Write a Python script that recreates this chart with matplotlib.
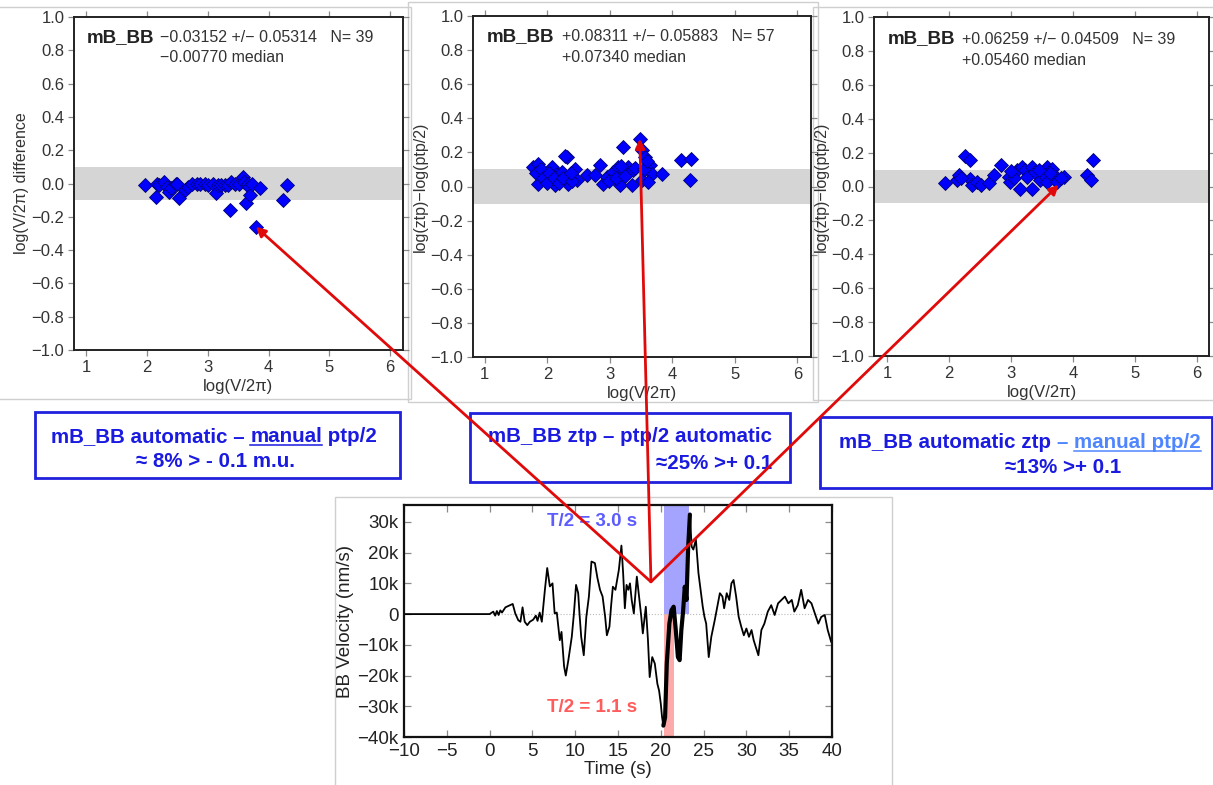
import matplotlib
matplotlib.use('Agg')
import matplotlib.pyplot as plt
from matplotlib.patches import Rectangle, ConnectionPatch
from matplotlib.lines import Line2D
from matplotlib.ticker import FuncFormatter
import numpy as np

# ---------------- data ----------------
p1_x = [1.96, 2.15, 2.16, 2.20, 2.28, 2.33, 2.36, 2.40, 2.47, 2.50, 2.53, 2.62, 2.68,
        2.74, 2.82, 2.88, 2.96, 3.00, 3.08, 3.13, 3.17, 3.22, 3.28, 3.34, 3.36, 3.38,
        3.45, 3.52, 3.58, 3.60, 3.63, 3.66, 3.68, 3.70, 3.72, 3.79, 3.86, 4.24, 4.30]
p1_y = [-0.01, -0.08, 0.00, -0.01, 0.01, -0.02, -0.05, -0.03, 0.00, 0.00, -0.09, -0.04, -0.02,
        0.00, 0.00, 0.00, 0.00, -0.01, 0.00, -0.06, -0.01, -0.01, -0.01, -0.01, -0.16, 0.01,
        0.00, 0.00, 0.04, 0.01, -0.12, 0.00, -0.02, -0.07, 0.00, -0.26, -0.03, -0.10, -0.01]

p2_x = [1.77, 1.85, 1.88, 1.85, 1.96, 2.07, 2.09, 2.15, 2.12, 2.23, 2.31, 2.33, 2.36,
        2.44, 2.47, 2.63, 2.76, 2.84, 2.89, 2.95, 3.05, 3.13, 3.16, 3.21, 3.21, 3.29,
        3.35, 3.37, 3.48, 3.51, 3.56, 3.52, 3.64, 3.67, 3.61, 3.83, 4.14, 4.30, 4.28,
        1.82, 1.90, 1.93, 2.00, 2.03, 2.10, 2.18, 2.25, 2.29, 2.40, 2.38, 2.98, 3.10,
        3.18, 3.25, 3.40, 3.55, 3.60]
p2_y = [0.114, 0.134, 0.065, 0.017, 0.036, 0.114, 0.026, 0.075, 0.007, 0.085, 0.173, 0.017, 0.065,
        0.104, 0.036, 0.065, 0.065, 0.124, 0.017, 0.056, 0.085, 0.114, 0.007, 0.232, 0.075, 0.114,
        0.007, 0.095, 0.280, 0.212, 0.173, 0.036, 0.124, 0.075, 0.026, 0.075, 0.153, 0.163, 0.040,
        0.08, 0.10, 0.05, 0.02, 0.08, 0.05, 0.02, 0.05, 0.18, 0.03, 0.08, 0.03, 0.05,
        0.12, 0.06, 0.11, 0.10, 0.15]

p3_x = [1.94, 2.13, 2.16, 2.26, 2.33, 2.34, 2.37, 2.45, 2.52, 2.64, 2.72, 2.83, 2.96,
        2.99, 3.10, 3.15, 3.18, 3.23, 3.26, 3.34, 3.34, 3.39, 3.47, 3.53, 3.58, 3.58,
        3.66, 3.72, 3.74, 3.85, 4.23, 4.28, 4.32, 3.05, 3.62, 3.80, 3.45, 2.20, 3.00]
p3_y = [0.018, 0.037, 0.067, 0.179, 0.159, 0.047, 0.008, 0.027, 0.008, 0.018, 0.067, 0.126, 0.057,
        0.027, 0.096, -0.012, 0.116, 0.096, 0.057, -0.012, 0.116, 0.086, 0.037, 0.067, 0.116, 0.027,
        0.106, 0.057, 0.027, 0.057, 0.067, 0.037, 0.155, 0.05, 0.08, 0.05, 0.10, 0.05, 0.09]

wave_t = [-10, 0.0, 0.43, 0.65, 0.85, 1.05, 1.25, 1.45, 1.85, 2.3, 2.7, 3.0, 3.35, 3.6, 3.85,
          4.1, 4.4, 4.7, 5.1, 5.4, 5.6, 5.85, 6.1, 6.46, 6.73, 7.04, 7.35, 7.6, 7.85, 8.2,
          8.4, 8.7, 8.9, 9.2, 9.6, 9.85, 10.1, 10.35, 10.5, 10.7, 11.0, 11.3, 11.6, 11.9,
          12.3, 12.6, 12.9, 13.2, 13.5, 13.7, 14.0, 14.2, 14.4, 14.7, 15.1, 15.4, 15.6,
          15.8, 16.0, 16.2, 16.4, 16.6, 16.85, 17.2, 17.5, 17.7, 17.9, 18.25, 18.5, 18.7,
          19.0, 19.3, 19.6, 19.8, 20.0, 20.15, 20.3, 20.5, 20.7, 21.0, 21.25, 21.5, 21.75,
          22.0, 22.2, 22.4, 22.6, 22.8, 23.0, 23.2, 23.4, 23.6, 23.8, 24.1, 24.4, 24.6,
          24.9, 25.1, 25.3, 25.6, 25.9, 26.3, 26.6, 26.9, 27.2, 27.4, 27.7, 28.0, 28.25,
          28.5, 28.8, 29.1, 29.4, 29.7, 30.0, 30.3, 30.6, 30.85, 31.4, 31.75, 32.1, 32.5,
          32.9, 33.3, 33.7, 34.1, 34.5, 34.9, 35.3, 35.6, 36.0, 36.4, 36.8, 37.2, 37.6,
          38.0, 38.4, 38.75, 39.15, 39.5, 39.9]
wave_k = [0, 0, 0.8, -0.5, 1.0, -0.3, 1.2, 0.5, 2.2, 2.8, 3.3, 0.2, -2, -2.5, 2.2,
          -2.5, -3.6, -2.5, -1.8, -0.5, -2.2, 0.5, -2.5, 7.9, 15, 9, 10, 0.2, 0.5, -8.5,
          -5.8, -17, -20, -15, -7.4, 0.2, 9.5, 6.8, 0.2, -7.4, -13.4, -0.9, 5.7, 17.1,
          16.6, 11.7, 7.9, 5.7, -0.9, -6.9, -4.1, 2.9, 8.9, 7.9, 14.4, 22.3, 13.3,
          1.9, 9.5, 7.9, 10, 4.6, 0.2, 12.2, 4.6, -0.3, -6.3, 2.4, -8.5, -20.5,
          -14, -16.1, -22.7, -24.9, -29.2, -33.6, -36.3, -33.6, -16.1, -3.1, 1.3, 2.4, -5.2,
          -14, -15, -5.2, 0.8, 8.9, 4.6, 22, 32.4, 22, 21, 24.2, 13.3, 8.9,
          2.4, -0.9, -3.1, -14, -7.4, -2, 2.4, 6.8, 5.7, 1.9, 6.8, 4.6, 10,
          11.1, 5.7, -0.9, -4.1, -6.9, -4.7, -7.4, -5.2, -8.5, -13.4, -5.2, -3.1, 0.8,
          2.9, -0.3, 3.5, 4.6, 5.7, 3.5, 4.6, 0.8, 2.9, 7.9, 1.9, 4.6, 3.5,
          0.2, -3.1, -0.9, -0.3, -5.2, -9]

blue_win = (20.35, 23.27)   # T/2 = 3.0 s window
red_win = (20.35, 21.52)    # T/2 = 1.1 s window
pick_point = (18.85, 10500)
targets = [(3.79, -0.26), (3.48, 0.28), (3.77, 0.01)]

# ---------------- figure ----------------
W, H = 1213, 785
plt.rcParams['font.family'] = ['Liberation Sans', 'DejaVu Sans']
plt.rcParams['axes.unicode_minus'] = True
fig = plt.figure(figsize=(W / 100, H / 100), dpi=100)
fig.patch.set_facecolor('white')


def fx(p):
    return p / W


def fy(p):
    return 1 - p / H


def ax_px(l, t, r, b):
    return fig.add_axes([l / W, 1 - b / H, (r - l) / W, (b - t) / H])


# screenshot frames (light gray)
for (l, t, r, b) in [(-2, 7, 411, 399), (408, 2, 818, 402), (813, 7, 1215, 400), (335, 497, 892, 790)]:
    fig.add_artist(Rectangle((fx(l), fy(b)), (r - l) / W, (b - t) / H, transform=fig.transFigure,
                             fill=False, ec='#cfcfcf', lw=1.0, zorder=0))

yfmt = FuncFormatter(lambda v, p: f'{round(v, 1) + 0:.1f}'.replace('-', '\u2212'))


def scatter_panel(ax, xs, ys, ylabel, mean_txt, median_txt, xlim, hy=0.937, my=0.877):
    ax.axhspan(-0.1, 0.1, color='#d5d5d5', lw=0, zorder=0)
    ax.plot(xs, ys, 'D', ms=7.3, mfc='#0000ff', mec='#00007a', mew=0.6, zorder=3, ls='none')
    ax.set_xlim(*xlim)
    ax.set_ylim(-1, 1)
    ax.set_xticks(range(1, 7))
    ax.set_yticks(np.round(np.arange(-1, 1.01, 0.2), 1))
    ax.yaxis.set_major_formatter(yfmt)
    ax.tick_params(direction='out', top=True, right=True, length=4, width=0.9,
                   color='#8a8a8a', labelsize=12, labelcolor='#333333', pad=3)
    for s in ax.spines.values():
        s.set_color('#222222')
        s.set_linewidth(1.4)
    ax.set_ylabel(ylabel, fontsize=11.5, color='#333333', labelpad=2)
    ax.set_xlabel('log(V/2\u03c0)', fontsize=12, color='#333333', labelpad=3)
    ax.text(0.04, hy, 'mB_BB', fontsize=13.5, fontweight='bold', color='#222222',
            transform=ax.transAxes, va='center')
    ax.text(0.262, hy, mean_txt, fontsize=11.5, color='#333333', transform=ax.transAxes, va='center')
    ax.text(0.262, my, median_txt, fontsize=11.5, color='#333333', transform=ax.transAxes, va='center')


ax1 = ax_px(74, 17, 403, 350)
scatter_panel(ax1, p1_x, p1_y, 'log(V/2\u03c0) difference',
              '\u22120.03152 +/\u2212 0.05314   N= 39', '\u22120.00770 median', (0.8, 6.21))
ax2 = ax_px(473, 16, 811, 357)
scatter_panel(ax2, p2_x, p2_y, 'log(ztp)\u2212log(ptp/2)',
              '+0.08311 +/\u2212 0.05883   N= 57', '+0.07340 median', (0.81, 6.22), 0.941, 0.877)
ax3 = ax_px(874, 17, 1209, 356)
scatter_panel(ax3, p3_x, p3_y, 'log(ztp)\u2212log(ptp/2)',
              '+0.06259 +/\u2212 0.04509   N= 39', '+0.05460 median', (0.79, 6.19), 0.935, 0.873)

# ---------------- seismogram ----------------
axb = ax_px(404, 505, 832, 737)
t = np.array(wave_t)
v = np.array(wave_k) * 1000.0
axb.axhspan(0, 35500, xmin=(blue_win[0] + 10) / 50, xmax=(blue_win[1] + 10) / 50,
            color='#a4a4ff', lw=0, zorder=0)
axb.axhspan(-40000, 0, xmin=(red_win[0] + 10) / 50, xmax=(red_win[1] + 10) / 50,
            color='#ffaaaa', lw=0, zorder=0)
axb.axhline(0, color='#bbbbbb', lw=0.8, ls=':', zorder=1)
axb.plot(t, v, color='black', lw=1.3, zorder=2)
m = (t >= 20.3) & (t <= 23.4)
axb.plot(t[m], v[m], color='black', lw=3.0, zorder=3, solid_capstyle='round')
axb.set_xlim(-10, 40)
axb.set_ylim(-40000, 35500)
axb.set_xticks(range(-10, 41, 5))
axb.set_yticks(range(-40000, 30001, 10000))
axb.xaxis.set_major_formatter(FuncFormatter(lambda x, p: f'{int(x)}'.replace('-', '\u2212')))
axb.yaxis.set_major_formatter(FuncFormatter(
    lambda y, p: '0' if y == 0 else f'{int(y / 1000)}k'.replace('-', '\u2212')))
axb.tick_params(direction='in', top=True, right=True, length=5, width=0.9, color='#8a8a8a',
                labelsize=13.5, labelcolor='#222222', pad=4)
for s in axb.spines.values():
    s.set_color('#111111')
    s.set_linewidth(1.6)
axb.set_xlabel('Time (s)', fontsize=13.5, color='#222222', labelpad=1)
axb.set_ylabel('BB Velocity (nm/s)', fontsize=13.5, color='#222222', labelpad=2)
axb.text(12.0, 30000, 'T/2 = 3.0 s', color='#5c5cff', fontsize=13.5, fontweight='bold',
         ha='center', va='center', zorder=4)
axb.text(12.0, -30300, 'T/2 = 1.1 s', color='#ff5c5c', fontsize=13.5, fontweight='bold',
         ha='center', va='center', zorder=4)

# ---------------- labelled boxes ----------------
BOXC = '#2020dd'
TXTC = '#1a1ae0'
LIGHT = '#4f86ff'
FS = 14.8
renderer = fig.canvas.get_renderer()


def text_width(s):
    tt = fig.text(0, 0, s, fontsize=FS, fontweight='bold')
    w = tt.get_window_extent(renderer).width
    tt.remove()
    return w


def rich_line(segments, xpx, ypx, ha='center'):
    full = ''.join(s for s, _, _ in segments)
    total = text_width(full)
    if ha == 'center':
        x0 = xpx - total / 2
    elif ha == 'right':
        x0 = xpx - total
    else:
        x0 = xpx
    wx = text_width('x')
    prefix = ''
    for s, c, u in segments:
        off = (text_width(prefix + 'x') - wx) if prefix else 0.0
        fig.text(fx(x0 + off), fy(ypx), s, fontsize=FS, fontweight='bold', color=c,
                 va='baseline', ha='left', zorder=6)
        if u:
            w = text_width(s)
            fig.add_artist(Line2D([fx(x0 + off), fx(x0 + off + w)], [fy(ypx + 2.5)] * 2,
                                  transform=fig.transFigure, color=c, lw=1.1, zorder=6))
        prefix += s


for (l, t_, r, b) in [(35, 412, 400, 478), (470, 413, 790, 482), (820, 417, 1212, 488)]:
    fig.add_artist(Rectangle((fx(l), fy(b)), (r - l) / W, (b - t_) / H, transform=fig.transFigure,
                             fill=True, fc='white', ec=BOXC, lw=2.0, zorder=5))

rich_line([('mB_BB automatic \u2013 ', TXTC, False), ('manual', TXTC, True), (' ptp/2', TXTC, False)],
          214, 442)
rich_line([('\u2248 8% > - 0.1 m.u.', TXTC, False)], 216, 467)
rich_line([('mB_BB ztp \u2013 ptp/2 automatic', TXTC, False)], 772, 442, ha='right')
rich_line([('\u224825% >+ 0.1', TXTC, False)], 772, 469, ha='right')
rich_line([('mB_BB automatic ztp ', TXTC, False), ('\u2013 ', LIGHT, False),
           ('manual ptp/2', LIGHT, True)], 1020, 448)
rich_line([('\u224813% >+ 0.1', TXTC, False)], 1063, 473)

# ---------------- red arrows ----------------
for ax_t, tgt in zip([ax1, ax2, ax3], targets):
    cp = ConnectionPatch(xyA=pick_point, coordsA='data', axesA=axb,
                         xyB=tgt, coordsB='data', axesB=ax_t,
                         arrowstyle='-|>', mutation_scale=14, color='#e00a0a', lw=2.0,
                         shrinkA=0, shrinkB=0, zorder=10)
    fig.add_artist(cp)

fig.savefig('out.png', dpi=100, facecolor='white')
